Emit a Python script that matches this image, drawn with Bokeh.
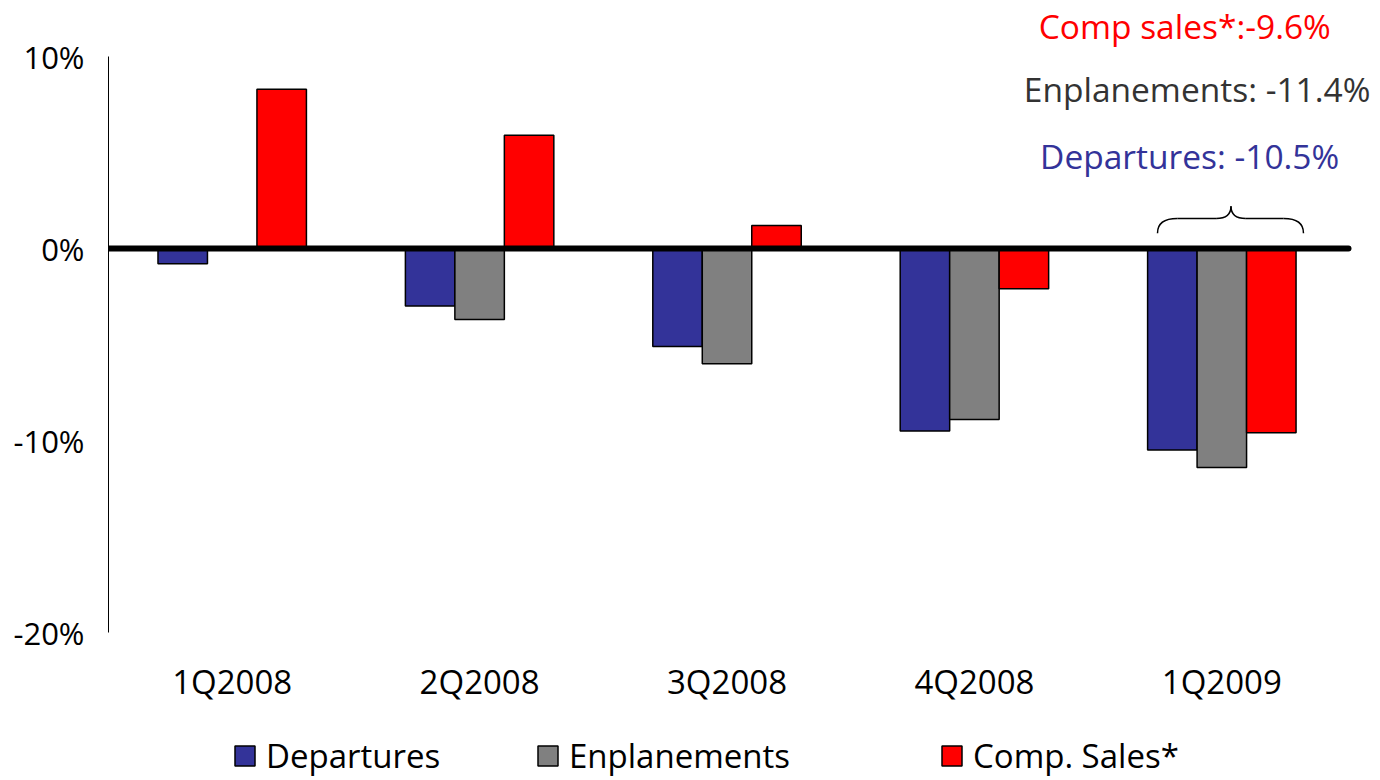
import numpy as np
from bokeh.plotting import figure
from bokeh.models import FixedTicker, Label, Legend, LegendItem, ColumnDataSource
from bokeh.embed import file_html
from bokeh.resources import INLINE

quarters = ["1Q2008", "2Q2008", "3Q2008", "4Q2008", "1Q2009"]
departures = [-0.8, -3.0, -5.1, -9.5, -10.5]
enplanements = [np.nan, -3.7, -6.0, -8.9, -11.4]
comp_sales = [8.3, 5.9, 1.2, -2.1, -9.6]
series_names = ["Departures", "Enplanements", "Comp. Sales*"]
series_colors = ["#333399", "#808080", "#FF0000"]
y_ticks = [-20, -10, 0, 10]
notes = ["Comp sales*:-9.6%", "Enplanements: -11.4%", "Departures: -10.5%"]
note_colors = ["#FF0000", "#333333", "#333399"]

FONT = "Open Sans"

# frame spans the whole figure so annotations and legend are not clipped
p = figure(frame_width=1264, frame_height=772, x_range=(-0.5, 4.609), y_range=(-27.708, 12.5),
           output_backend="svg", toolbar_location=None,
           min_border_left=108, min_border_right=0, min_border_top=8, min_border_bottom=0)
p.outline_line_color = None
p.xgrid.grid_line_color = None
p.ygrid.grid_line_color = None

xs = np.arange(len(quarters))
offsets = [-0.2, 0.0, 0.2]
values = [departures, enplanements, comp_sales]
renderers = []
for vals, off, col in zip(values, offsets, series_colors):
    src = ColumnDataSource(dict(x=xs + off, top=vals))
    r = p.vbar(x="x", top="top", bottom=0, width=0.2, source=src,
               fill_color=col, line_color="black", line_width=1.5)
    renderers.append(r)

# zero line
p.line(x=[-0.5, 4.512], y=[0, 0], line_color="black", line_width=6, line_cap="round")

# y axis
p.yaxis.ticker = FixedTicker(ticks=y_ticks)
p.yaxis.major_label_overrides = {t: f"{t}%" for t in y_ticks}
p.yaxis.bounds = (min(y_ticks), max(y_ticks))
p.yaxis.major_tick_line_color = None
p.yaxis.minor_tick_line_color = None
p.yaxis.axis_line_color = "black"
p.yaxis.axis_line_width = 1
p.yaxis.major_label_text_font = FONT
p.yaxis.major_label_text_font_size = "31px"
p.yaxis.major_label_text_color = "black"
p.yaxis.major_label_standoff = 18

# x axis, pinned at the bottom of the value scale
p.xaxis.fixed_location = min(y_ticks)
p.xaxis.ticker = FixedTicker(ticks=list(xs))
p.xaxis.major_label_overrides = {int(i): q for i, q in zip(xs, quarters)}
p.xaxis.axis_line_color = None
p.xaxis.major_tick_line_color = None
p.xaxis.minor_tick_line_color = None
p.xaxis.major_label_text_font = FONT
p.xaxis.major_label_text_font_size = "33px"
p.xaxis.major_label_text_color = "black"
p.xaxis.major_label_standoff = 20

# annotations
note_y = [11.6, 8.33, 4.84]
note_x = [3.85, 3.9, 3.87]
for t, c, xx, yy in zip(notes, note_colors, note_x, note_y):
    p.add_layout(Label(x=xx, y=yy, text=t, text_color=c, text_font=FONT, text_font_size="33.5px",
                       text_align="center", text_baseline="middle"))

# brace over last quarter
bx0, bxm, bx1 = 4 - 0.26, 4 + 0.037, 4 + 0.33
by0, by1, by2 = 0.8, 1.56, 2.2
dx = 0.08
dm = 0.06
q = dict(line_color="black", line_width=1.5)
p.quadratic(x0=[bx0, bxm - dm, bxm + dm, bx1], y0=[by0, by1, by1, by0],
            x1=[bx0 + dx, bxm, bxm, bx1 - dx], y1=[by1, by2, by2, by1],
            cx=[bx0, bxm, bxm, bx1], cy=[by1, by1, by1, by1], **q)
p.segment(x0=[bx0 + dx, bxm + dm], y0=[by1, by1], x1=[bxm - dm, bx1 - dx], y1=[by1, by1], **q)

# legend: one entry per legend box, placed as in the original
legend_x = [124, 427, 831]
for n, r, lx in zip(series_names, renderers, legend_x):
    lg = Legend(items=[LegendItem(label=n, renderers=[r])],
                orientation="horizontal", location=(lx, 2),
                label_text_font=FONT, label_text_font_size="33px", label_text_color="black",
                glyph_width=25, glyph_height=25, label_standoff=9,
                border_line_color=None, background_fill_alpha=0, padding=0, margin=0)
    p.add_layout(lg, "center")

open("out.html", "w").write(file_html(p, INLINE))
